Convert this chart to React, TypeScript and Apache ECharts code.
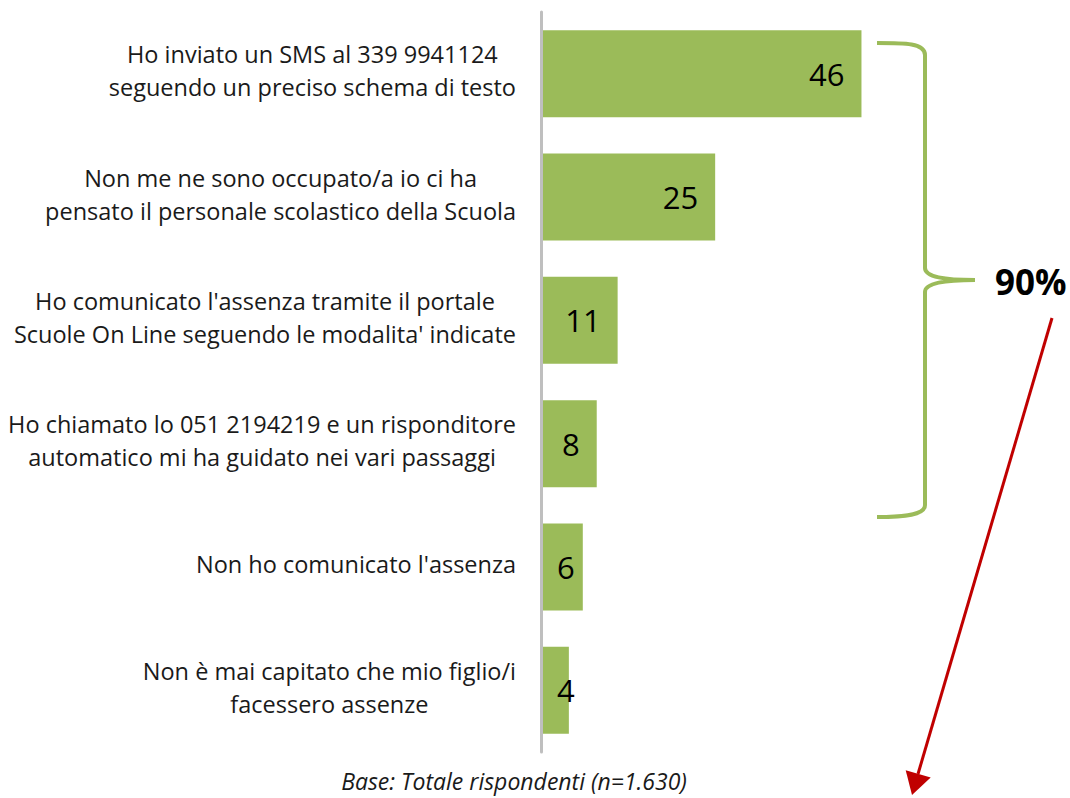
import React, { useEffect, useRef } from "react";
import * as echarts from "echarts";

const categories: string[] = [
  "Ho inviato un SMS al 339 9941124\nseguendo un preciso schema di testo",
  "Non me ne sono occupato/a io ci ha\npensato il personale scolastico della Scuola",
  "Ho comunicato l'assenza tramite il portale\nScuole On Line seguendo le modalita' indicate",
  "Ho chiamato lo 051 2194219 e un risponditore\nautomatico mi ha guidato nei vari passaggi",
  "Non ho comunicato l'assenza",
  "Non è mai capitato che mio figlio/i\nfacessero assenze",
];
const values: number[] = [46, 25, 11, 8, 6, 4];
const bracketLabel = "90%";
const footnote = "Base: Totale rispondenti (n=1.630)";

const FONT = "'Open Sans', 'Noto Sans', sans-serif";
const GREEN = "#9bbb59";

const BRACE_D =
  "M877,43 C905,43 925,43 925,55 L925,268 C925,277 945,280 975,280 C945,280 925,283 925,292 L925,505 C925,515 905,517 877,517";
echarts.graphic.registerShape("brace", echarts.graphic.extendPath(BRACE_D, {}));

export default function App() {
  const ref = useRef<HTMLDivElement>(null);
  useEffect(() => {
    if (!ref.current) return;
    const chart = echarts.init(ref.current, undefined, { renderer: "svg" });
    const data = values.map((v) => ({
      value: v,
      label:
        v < 7
          ? { position: "insideLeft", distance: 16 }
          : { position: "insideRight", distance: 17 },
    }));
    chart.setOption({
      animation: false,
      backgroundColor: "#ffffff",
      grid: { left: 541, top: 12, width: 418, height: 740, containLabel: false },
      xAxis: {
        type: "value",
        min: 0,
        max: 60,
        show: false,
      },
      yAxis: {
        type: "category",
        data: categories,
        inverse: true,
        z: 5,
        axisLine: { show: true, lineStyle: { color: "#bfbfbf", width: 3 } },
        axisTick: { show: false },
        splitLine: { show: false },
        axisLabel: {
          margin: 25,
          align: "right",
          padding: [0, 0, 6, 0],
          formatter: (val: string) =>
            val
              .split("\n")
              .map((l) => `{c|${l}}`)
              .join("\n"),
          rich: {
            c: {
              align: "center",
              fontFamily: FONT,
              fontSize: 23.5,
              lineHeight: 33,
              color: "#1a1a1a",
            },
          },
        },
      },
      series: [
        {
          type: "bar",
          data,
          barWidth: 87,
          itemStyle: { color: GREEN },
          label: {
            show: true,
            fontFamily: FONT,
            fontSize: 31,
            color: "#000000",
          },
        },
      ],
      graphic: [
        {
          type: "brace",
          x: 0,
          y: 0,
          style: { fill: "none", stroke: GREEN, lineWidth: 4 },
        },
        {
          type: "text",
          x: 995,
          y: 281,
          style: {
            text: bracketLabel,
            fontFamily: FONT,
            fontSize: 35,
            fontWeight: "bold",
            fill: "#000000",
            textAlign: "left",
            textVerticalAlign: "middle",
          },
        },
        {
          type: "line",
          shape: { x1: 1052, y1: 318, x2: 918, y2: 774 },
          style: { stroke: "#c00000", lineWidth: 3 },
        },
        {
          type: "polygon",
          shape: {
            points: [
              [912, 795],
              [930.7, 777.6],
              [905.7, 770.2],
            ],
          },
          style: { fill: "#c00000" },
        },
        {
          type: "text",
          x: 514,
          y: 781,
          style: {
            text: footnote,
            fontFamily: FONT,
            fontSize: 23,
            fontStyle: "italic",
            fill: "#1a1a1a",
            textAlign: "center",
            textVerticalAlign: "middle",
          },
        },
      ],
    });
    return () => chart.dispose();
  }, []);
  return (
    <div
      ref={ref}
      style={{ position: "absolute", left: 0, top: 0, width: 1070, height: 798, background: "#fff" }}
    />
  );
}
